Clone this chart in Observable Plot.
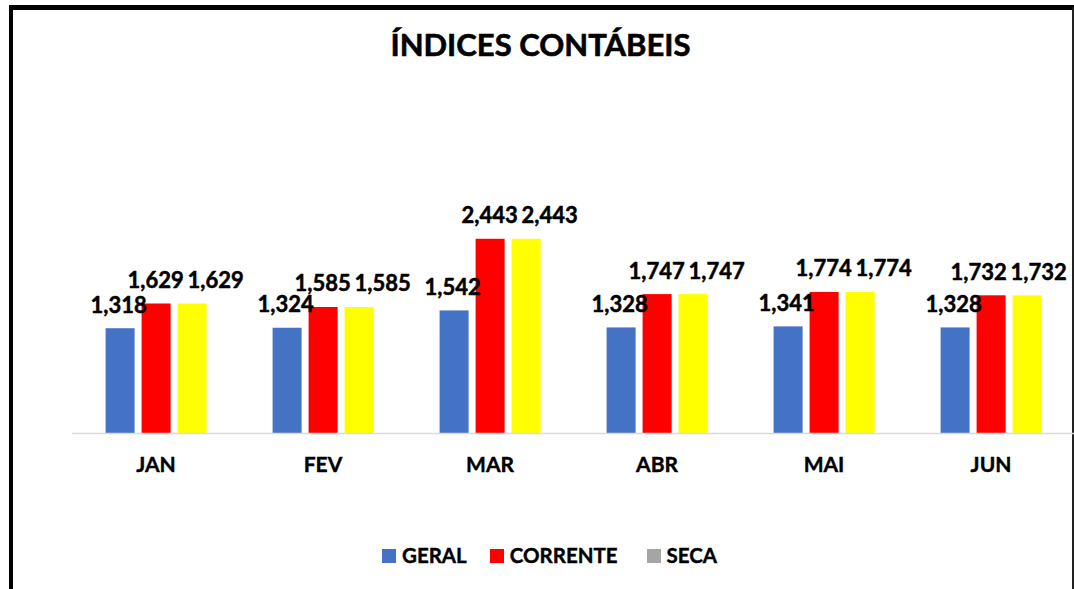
<!DOCTYPE html>
<html><head><meta charset="utf-8">
<script src="https://cdn.jsdelivr.net/npm/d3@7"></script>
<script src="https://cdn.jsdelivr.net/npm/@observablehq/plot@0.6"></script>
<style>
html,body{margin:0;padding:0;background:#fff;overflow:hidden;width:1074px;height:589px;}
#wrap{position:relative;width:1074px;height:589px;font-family:Lato,"Open Sans",sans-serif;color:#000;}
#frame{position:absolute;left:9px;top:5px;width:1059px;height:700px;border-left:4px solid #000;border-top:5px solid #000;border-right:2px solid #222;box-sizing:content-box;}
#title{position:absolute;left:10px;width:1061px;top:29px;text-align:center;font-weight:700;font-size:31px;line-height:1;white-space:nowrap;-webkit-text-stroke:0.6px #000;}
#chart{position:absolute;left:0;top:0;}
#legend{position:absolute;left:382px;top:545px;display:flex;font-weight:700;font-size:20.5px;line-height:1;-webkit-text-stroke:0.4px #000;}
.item{display:flex;align-items:flex-start;}
.sw{width:14px;height:14px;margin-top:4px;margin-right:6px;}
</style></head>
<body>
<div id="wrap">
  <div id="frame"></div>
  <div id="title"></div>
  <div id="chart"></div>
  <div id="legend"></div>
</div>
<script>
const titleText = "ÍNDICES CONTÁBEIS";
const months = ["JAN", "FEV", "MAR", "ABR", "MAI", "JUN"];
const seriesNames = ["GERAL", "CORRENTE", "SECA"];
const geral = [1.318, 1.324, 1.542, 1.328, 1.341, 1.328];
const corrente = [1.629, 1.585, 2.443, 1.747, 1.774, 1.732];
const seca = [1.629, 1.585, 2.443, 1.747, 1.774, 1.732];
const barColors = ["#4472c4", "#ff0000", "#ffff00"];
const legendColors = ["#4472c4", "#ff0000", "#a5a5a5"];
const labelDx = [-2, -1, 23];
const edgeShift = [0, -12, -12];   // labels of the last group pulled in from the right edge
const legendGaps = [23, 29, 0];

const seriesValues = [geral, corrente, seca];
const rows = months.flatMap((m, i) => seriesNames.map((s, j) => ({month: m, mi: i, series: s, si: j, value: seriesValues[j][i]})));
const fmt = v => d3.format(".3f")(v).replace(".", ",");
const last = months.length - 1;

document.getElementById("title").textContent = titleText;

const labelMark = (data, dx) => Plot.text(data, {
  fx: "month", x: "series", y: "value", text: d => fmt(d.value),
  dx, dy: -16, lineAnchor: "bottom", fontSize: 22, fontWeight: 700,
  fill: "#000", stroke: "#000", strokeWidth: 0.5
});

const chart = Plot.plot({
  width: 1074, height: 589,
  marginLeft: 71.4, marginRight: 0, marginTop: 194.5, marginBottom: 156,
  style: {background: "transparent", overflow: "visible", fontFamily: "Lato, 'Open Sans', sans-serif", fontSize: "21px", fontWeight: "bold", color: "#000"},
  fx: {domain: months, padding: 0, label: null, tickSize: 0, tickPadding: 24},
  x: {domain: seriesNames, paddingInner: 0.2, paddingOuter: 0.86, axis: null},
  y: {domain: [0, 3], axis: null},
  color: {domain: seriesNames, range: barColors},
  marks: [
    Plot.barY(rows, {fx: "month", x: "series", y: "value", fill: "series"}),
    Plot.ruleY([0], {stroke: "#d9d9d9", strokeWidth: 1.5}),
    ...seriesNames.flatMap((s, j) => [
      labelMark(rows.filter(r => r.si === j && r.mi !== last), labelDx[j]),
      labelMark(rows.filter(r => r.si === j && r.mi === last), labelDx[j] + edgeShift[j])
    ])
  ]
});
chart.querySelectorAll("g[aria-label='fx-axis tick label']").forEach(g => {
  g.setAttribute("stroke", "#000"); g.setAttribute("stroke-width", "0.4");
});
document.getElementById("chart").appendChild(chart);

const legend = document.getElementById("legend");
seriesNames.forEach((s, j) => {
  const it = document.createElement("div"); it.className = "item";
  it.style.marginRight = legendGaps[j] + "px";
  const sw = document.createElement("div"); sw.className = "sw"; sw.style.background = legendColors[j];
  const tx = document.createElement("span"); tx.textContent = s;
  it.appendChild(sw); it.appendChild(tx); legend.appendChild(it);
});
</script>
</body></html>
